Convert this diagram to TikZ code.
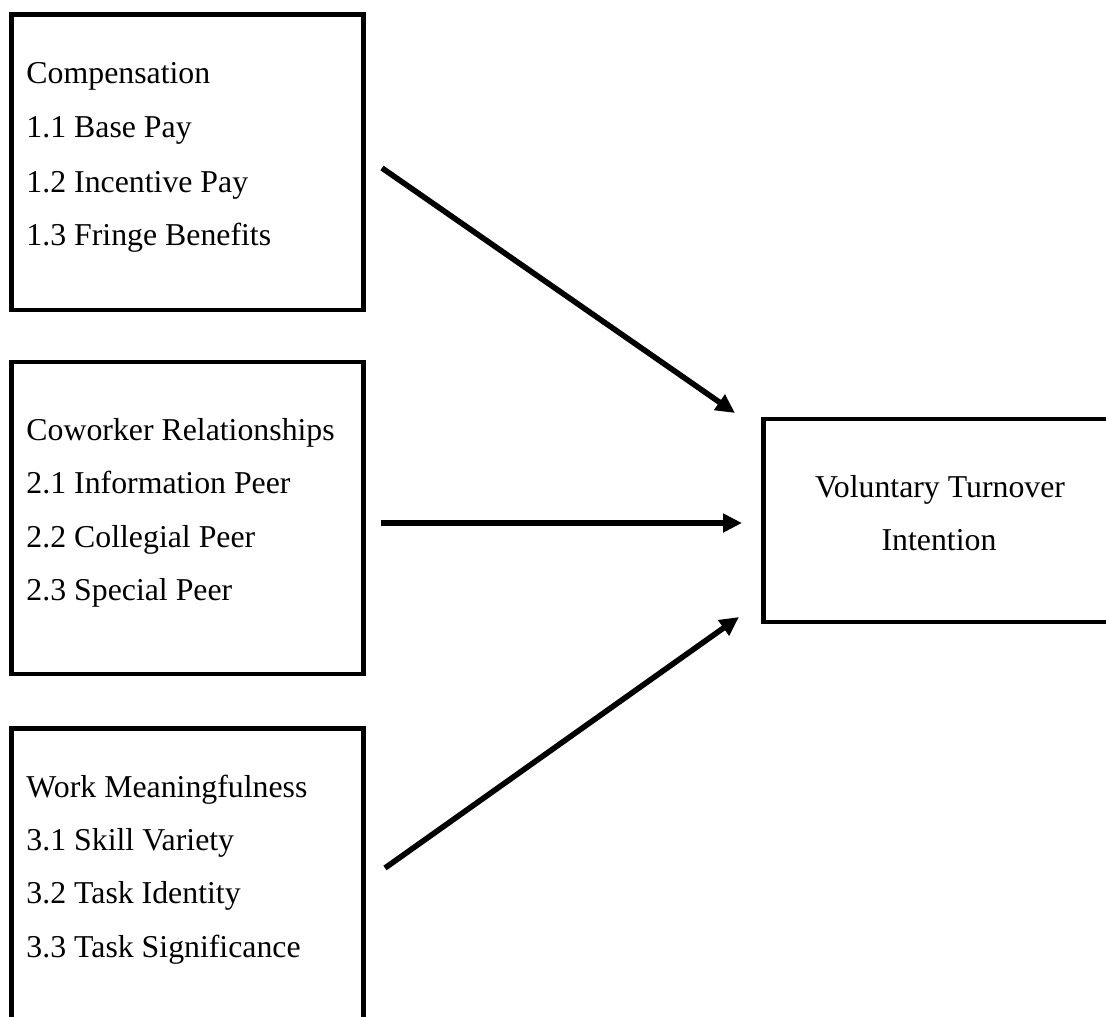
\documentclass[tikz,border=0pt]{standalone}
\usepackage{fontspec}
\setmainfont{Liberation Serif}
\usetikzlibrary{arrows.meta}
\begin{document}
\begin{tikzpicture}[x=1pt,y=-1pt,
  frame/.style={draw=black,line width=4.6pt,inner sep=0pt,outer sep=0pt},
  txt/.style={inner sep=0pt,outer sep=0pt,anchor=base west,font=\fontsize{31.8}{38}\selectfont},
  ctxt/.style={inner sep=0pt,outer sep=0pt,anchor=base,font=\fontsize{31.8}{38}\selectfont},
  link/.style={line width=5.6pt,-{Triangle[length=19pt,width=18pt]}}]
\clip (0,0) rectangle (1106,1017);
\fill[white] (0,0) rectangle (1106,1017);
% boxes
\node[frame,minimum width=351.6pt,minimum height=295.5pt] (b1) at (187.5,162.3) {};
\node[frame,minimum width=351.6pt,minimum height=312pt] (b2) at (187.5,518) {};
\node[frame,minimum width=351.6pt,minimum height=320pt] (b3) at (187.5,888.7) {};
\node[frame,minimum width=380pt,minimum height=203pt] (out) at (953.7,520.5) {};
% texts
\node[txt] (t10) at (26.5,83) {Compensation};
\node[txt] (t11) at (26.5,137) {1.1 Base Pay};
\node[txt] (t12) at (26.5,192) {1.2 Incentive Pay};
\node[txt] (t13) at (26.5,245) {1.3 Fringe Benefits};
\node[txt] (t20) at (26.5,440) {Coworker Relationships};
\node[txt] (t21) at (26.5,493) {2.1 Information Peer};
\node[txt] (t22) at (26.5,547) {2.2 Collegial Peer};
\node[txt] (t23) at (26.5,600) {2.3 Special Peer};
\node[txt] (t30) at (26.5,797) {Work Meaningfulness};
\node[txt] (t31) at (26.5,850) {3.1 Skill Variety};
\node[txt] (t32) at (26.5,903) {3.2 Task Identity};
\node[txt] (t33) at (26.5,957) {3.3 Task Significance};
\node[ctxt] (v1) at (940,497) {Voluntary Turnover};
\node[ctxt] (v2) at (939,550) {Intention};
% arrow ends
\coordinate (s1) at (382,168);
\coordinate (e1) at (735,413);
\coordinate (s2) at (381,523);
\coordinate (e2) at (742,523);
\coordinate (s3) at (385,868);
\coordinate (e3) at (739,617);
\draw[link] (s1) -- (e1);
\draw[link] (s2) -- (e2);
\draw[link] (s3) -- (e3);
\end{tikzpicture}
\end{document}
